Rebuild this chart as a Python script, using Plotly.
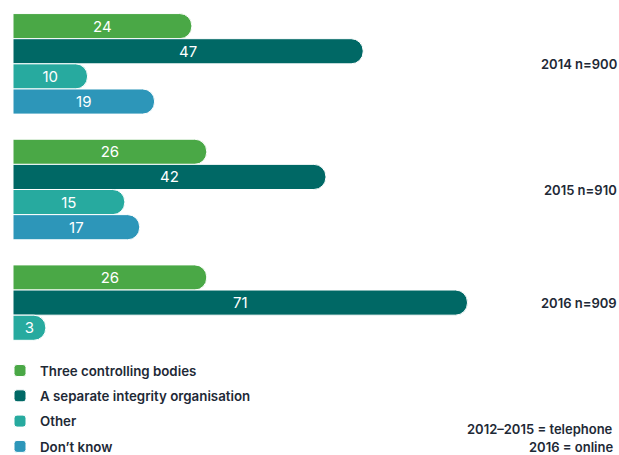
import plotly.graph_objects as go

categories = ["2014 n=900", "2015 n=910", "2016 n=909"]
series = ["Three controlling bodies", "A separate integrity organisation", "Other", "Don’t know"]
colors = ["#4AA846", "#006865", "#27AA9F", "#2D96B9"]

# printed labels
three_lbl = [24, 26, 26]
separate_lbl = [47, 42, 71]
other_lbl = [10, 15, 3]
dontknow_lbl = [19, 17, None]

# bar lengths as drawn in the picture (2016 bars are drawn shorter/longer than their labels)
three_len = [24, 26, 26]
separate_len = [47, 42, 61]
other_len = [10, 15, 4.4]
dontknow_len = [19, 17, None]

lens = [three_len, separate_len, other_len, dontknow_len]
lbls = [three_lbl, separate_lbl, other_lbl, dontknow_lbl]

note_lines = ["2012–2015 = telephone", "2016 = online"]

FONT = "Inter"
TXT = "#1E2936"

fig = go.Figure()
for i, (name, col, ln, lb) in enumerate(zip(series, colors, lens, lbls)):
    fig.add_trace(go.Bar(
        y=categories, x=ln, name=name, orientation="h", legendgroup=str(i),
        marker=dict(color=col, cornerradius=12, line=dict(color="white", width=1)),
        text=[("" if v is None else str(v)) for v in lb],
        textposition="inside", insidetextanchor="middle", textangle=0,
        constraintext="none",
        textfont=dict(family=FONT, size=15, color="white"),
        hoverinfo="skip",
    ))

W, H = 619, 455
ml, mt, mb = 13, 1, 77
pw = W - ml
fig.update_layout(
    width=W, height=H,
    margin=dict(l=ml, r=0, t=mt, b=mb, autoexpand=False),
    paper_bgcolor="white", plot_bgcolor="white",
    barmode="group", bargap=0.2, bargroupgap=0,
    showlegend=True,
    legend=dict(x=-13 / pw, y=0.06, xanchor="left", yanchor="top",
                font=dict(family=FONT, size=13.3, color=TXT, weight=600),
                traceorder="grouped", tracegroupgap=5, bgcolor="rgba(0,0,0,0)"),
    xaxis=dict(range=[0, pw / 7.45], visible=False, fixedrange=True),
    yaxis=dict(autorange="reversed", showticklabels=False, showgrid=False,
               zeroline=False, fixedrange=True),
)

for i, c in enumerate(categories):
    shift = 12.5 if dontknow_len[i] is None else 0
    fig.add_annotation(x=1, xref="paper", y=c, yref="y", text=c, showarrow=False,
                       xanchor="right", xshift=0, yshift=shift,
                       font=dict(family=FONT, size=13, color=TXT, weight=600))

for j, line in enumerate(note_lines):
    fig.add_annotation(x=1, xref="paper", y=0, yref="paper", yanchor="middle",
                       text=line, showarrow=False,
                       xanchor="right", xshift=-4, yshift=-51 - 18 * j,
                       font=dict(family=FONT, size=13, color=TXT, weight=600))

fig.write_html("out.html")
